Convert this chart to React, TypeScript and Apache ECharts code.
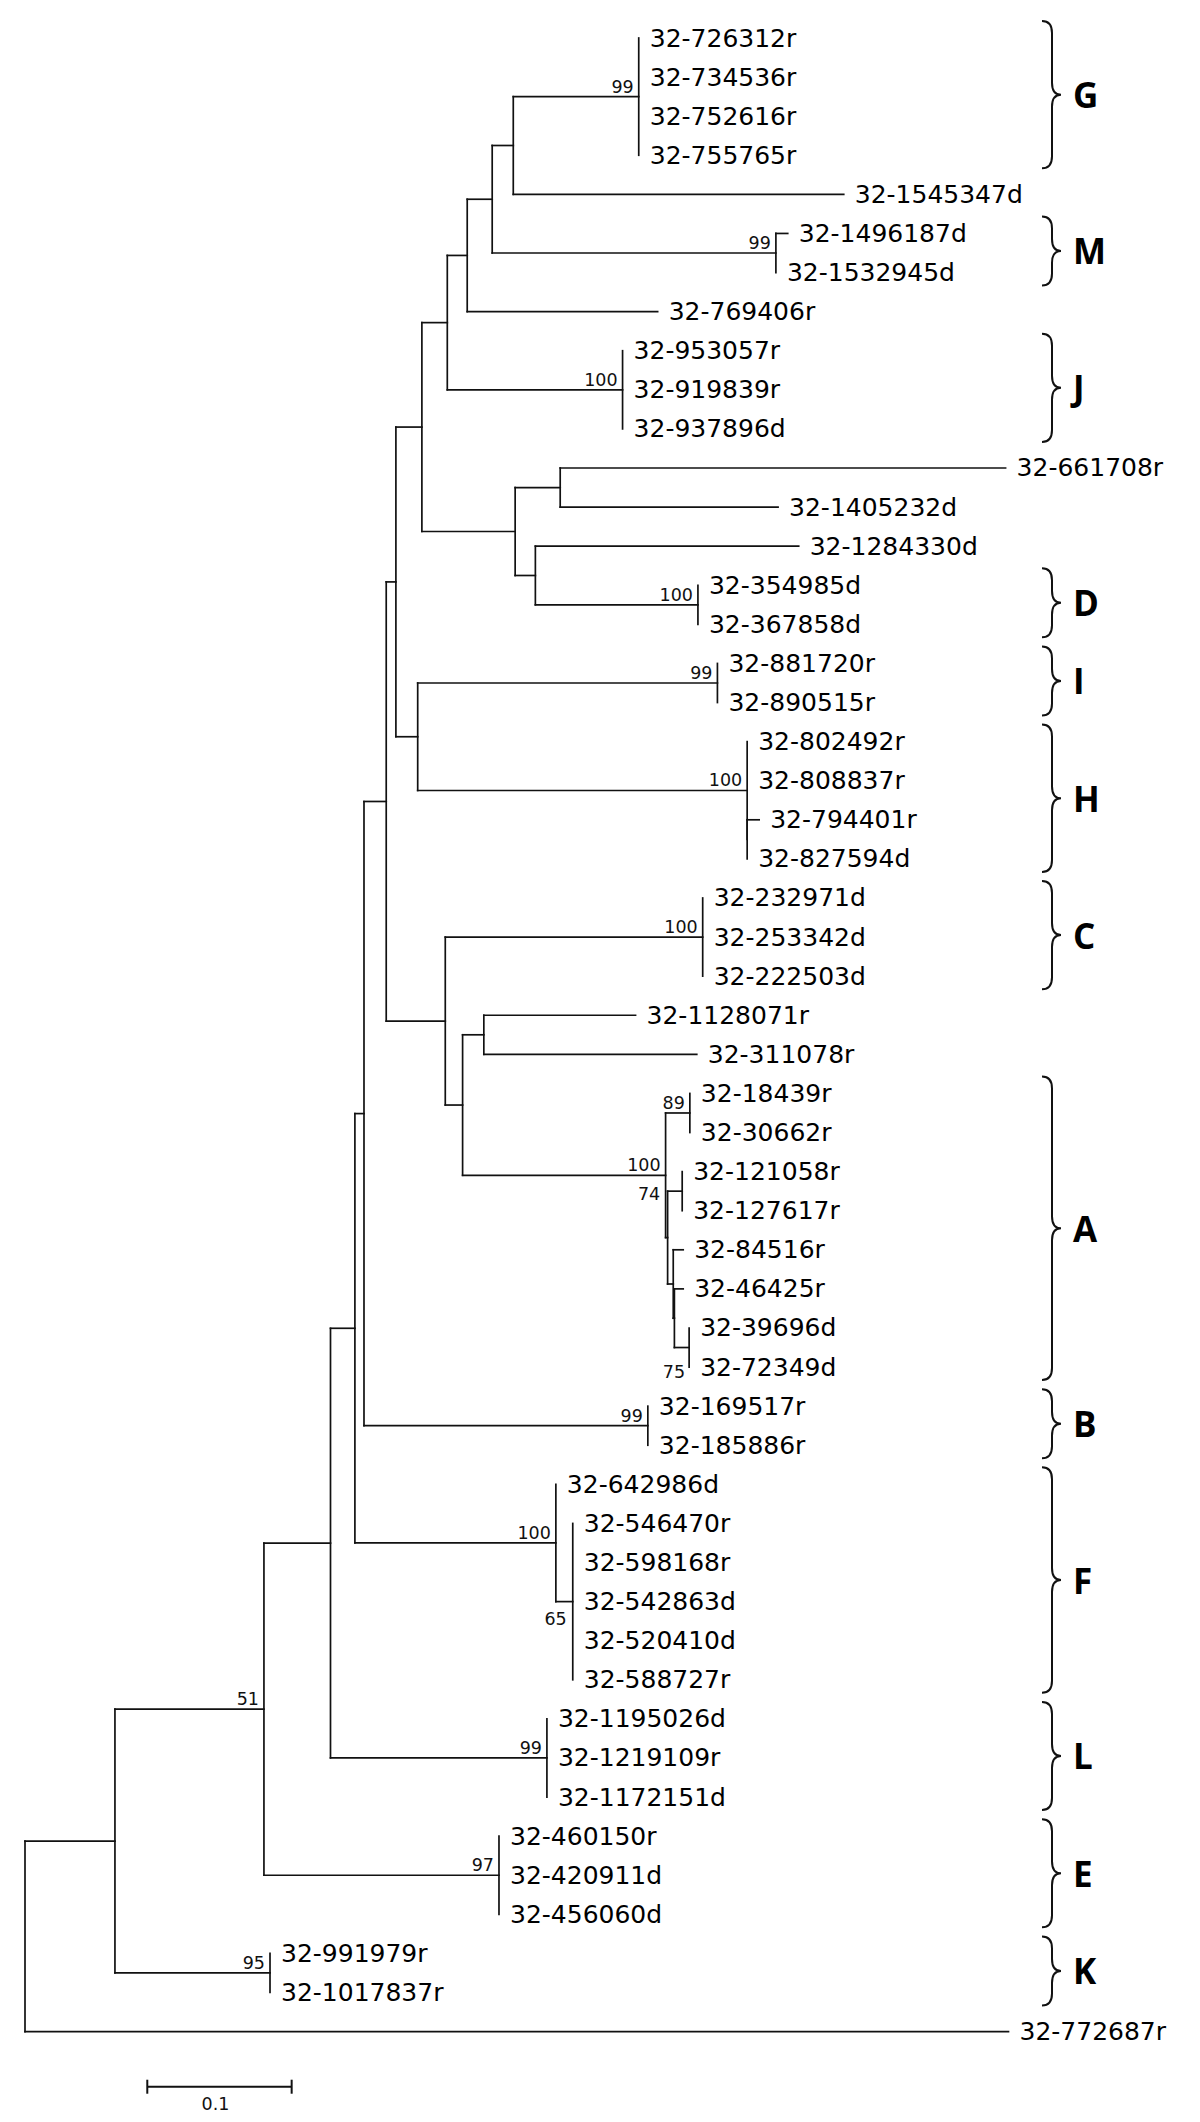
import React, { useEffect, useRef } from "react";
import * as echarts from "echarts";

// ---------------- DATA ----------------
// Leaves, top to bottom
const LEAF_NAMES = [
  "32-726312r", "32-734536r", "32-752616r", "32-755765r", "32-1545347d",
  "32-1496187d", "32-1532945d", "32-769406r", "32-953057r", "32-919839r",
  "32-937896d", "32-661708r", "32-1405232d", "32-1284330d", "32-354985d",
  "32-367858d", "32-881720r", "32-890515r", "32-802492r", "32-808837r",
  "32-794401r", "32-827594d", "32-232971d", "32-253342d", "32-222503d",
  "32-1128071r", "32-311078r", "32-18439r", "32-30662r", "32-121058r",
  "32-127617r", "32-84516r", "32-46425r", "32-39696d", "32-72349d",
  "32-169517r", "32-185886r", "32-642986d", "32-546470r", "32-598168r",
  "32-542863d", "32-520410d", "32-588727r", "32-1195026d", "32-1219109r",
  "32-1172151d", "32-460150r", "32-420911d", "32-456060d", "32-991979r",
  "32-1017837r", "32-772687r",
];

// Distance from the root to each leaf (substitutions per site)
const LEAF_DEPTHS = [
  0.4251, 0.4251, 0.4251, 0.4251, 0.5671,
  0.5283, 0.5201, 0.4382, 0.4139, 0.4139,
  0.4139, 0.6792, 0.5216, 0.5359, 0.4661,
  0.4661, 0.4796, 0.4796, 0.5002, 0.5002,
  0.5085, 0.5002, 0.4694, 0.4694, 0.4694,
  0.4229, 0.4653, 0.4605, 0.4605, 0.4552,
  0.4552, 0.4559, 0.4559, 0.46, 0.46,
  0.4314, 0.4314, 0.3677, 0.3794, 0.3794,
  0.3794, 0.3794, 0.3794, 0.3615, 0.3615,
  0.3615, 0.3283, 0.3283, 0.3283, 0.1697,
  0.1697, 0.6812,
];

// Internal nodes
const NODE_IDS = [
  "R", "N1", "K", "N51", "E", "N330", "L", "N355", "F", "F65",
  "N364", "B", "N386", "N396", "N418", "I", "H", "Hs", "N445", "C",
  "N462", "N484", "A", "A89", "Z", "A74", "Y", "W", "A75", "N422",
  "N516", "N560", "N535", "D", "N448", "J", "N467", "N492", "M", "N513", "G",
];

const NODE_DEPTHS = [
  0, 0.0623, 0.1697, 0.1655, 0.3283, 0.2116, 0.3615, 0.2285, 0.3677, 0.3794,
  0.2348, 0.4314, 0.2502, 0.2569, 0.272, 0.4796, 0.5002, 0.5002, 0.2911, 0.4694,
  0.3031, 0.3178, 0.4437, 0.4605, 0.4451, 0.4552, 0.449, 0.4498, 0.46, 0.2749,
  0.3395, 0.3707, 0.3535, 0.4661, 0.2925, 0.4139, 0.3063, 0.3236, 0.5201, 0.3382, 0.4251,
];

const NODE_CHILDREN = [
  ["N1", "32-772687r"],
  ["N51", "K"],
  ["32-991979r", "32-1017837r"],
  ["N330", "E"],
  ["32-460150r", "32-420911d", "32-456060d"],
  ["N355", "L"],
  ["32-1195026d", "32-1219109r", "32-1172151d"],
  ["N364", "F"],
  ["32-642986d", "F65"],
  ["32-546470r", "32-598168r", "32-542863d", "32-520410d", "32-588727r"],
  ["N386", "B"],
  ["32-169517r", "32-185886r"],
  ["N396", "N445"],
  ["N422", "N418"],
  ["I", "H"],
  ["32-881720r", "32-890515r"],
  ["32-802492r", "32-808837r", "Hs"],
  ["32-794401r", "32-827594d"],
  ["C", "N462"],
  ["32-232971d", "32-253342d", "32-222503d"],
  ["N484", "A"],
  ["32-1128071r", "32-311078r"],
  ["A89", "Z"],
  ["32-18439r", "32-30662r"],
  ["A74", "Y"],
  ["32-121058r", "32-127617r"],
  ["32-84516r", "W"],
  ["32-46425r", "A75"],
  ["32-39696d", "32-72349d"],
  ["N448", "N516"],
  ["N560", "N535"],
  ["32-661708r", "32-1405232d"],
  ["32-1284330d", "D"],
  ["32-354985d", "32-367858d"],
  ["N467", "J"],
  ["32-953057r", "32-919839r", "32-937896d"],
  ["N492", "32-769406r"],
  ["N513", "M"],
  ["32-1496187d", "32-1532945d"],
  ["G", "32-1545347d"],
  ["32-726312r", "32-734536r", "32-752616r", "32-755765r"],
];

// Bootstrap support (null = not shown)
const NODE_SUPPORT = [
  null, null, 95, 51, 97, null, 99, null, 100, 65,
  null, 99, null, null, null, 99, 100, null, null, 100,
  null, null, 100, 89, null, 74, null, null, 75, null,
  null, null, null, 100, null, 100, null, null, 99, null, 99,
];

// Clades
const CLADE_LETTERS = ["G", "M", "J", "D", "I", "H", "C", "A", "B", "F", "L", "E", "K"];
const CLADE_FIRST_LEAF = [
  "32-726312r", "32-1496187d", "32-953057r", "32-354985d", "32-881720r",
  "32-802492r", "32-232971d", "32-18439r", "32-169517r", "32-642986d",
  "32-1195026d", "32-460150r", "32-991979r",
];
const CLADE_LAST_LEAF = [
  "32-755765r", "32-1532945d", "32-937896d", "32-367858d", "32-890515r",
  "32-827594d", "32-222503d", "32-72349d", "32-185886r", "32-588727r",
  "32-1172151d", "32-456060d", "32-1017837r",
];

const SCALE_BAR_LENGTH = 0.1;
const SCALE_BAR_LABEL = "0.1";

// ---------------- STYLE / LAYOUT ----------------
const LINE_COLOR = "#111";
const LINE_WIDTH = 1.7;
const LEAF_FONT = '25px "DejaVu Sans"';
const SUPPORT_FONT = '17.5px "DejaVu Sans"';
const CLADE_FONT = 'bold 35px "Open Sans"';
const LEAF_LABEL_GAP = 11;
const SUPPORT_DEFAULT_SHIFT = [-5, -1, "bottom"];
const SUPPORT_SHIFT = {
  F65: [-6, 8, "top"],
  A75: [-4, 15, "top"],
  A74: [-22, -6, "top"],
};
const BRACE_X0 = 1042;
const BRACE_SPINE = 1052;
const BRACE_TIP = 1061;
const BRACE_R = 12;
const BRACE_TOP_PAD = 17;
const BRACE_BOTTOM_PAD = 13;
const CLADE_LETTER_X = 1073;
const SCALE_BAR_POS = [0.0847, 52.41];

export default function App() {
  const ref = useRef(null);

  useEffect(() => {
    const chart = echarts.init(ref.current, null, { renderer: "svg" });

    const leafIndex = {};
    LEAF_NAMES.forEach((n, i) => (leafIndex[n] = i));
    const nodeIndex = {};
    NODE_IDS.forEach((id, i) => (nodeIndex[id] = i));
    const yCache = {};
    const posOf = (r) => {
      if (leafIndex[r] !== undefined) {
        const i = leafIndex[r];
        return [LEAF_DEPTHS[i], i];
      }
      const k = nodeIndex[r];
      if (yCache[r] === undefined) {
        const ch = NODE_CHILDREN[k];
        const y0 = posOf(ch[0])[1];
        const y1 = posOf(ch[ch.length - 1])[1];
        yCache[r] = (y0 + y1) / 2;
      }
      return [NODE_DEPTHS[k], yCache[r]];
    };

    const segments = [];
    const supportItems = [];
    NODE_IDS.forEach((id, k) => {
      const [d, y] = posOf(id);
      const ch = NODE_CHILDREN[k];
      const first = posOf(ch[0]);
      const last = posOf(ch[ch.length - 1]);
      segments.push([d, first[1], d, last[1]]);
      ch.forEach((c) => {
        const p = posOf(c);
        if (p[0] > d + 1e-6) segments.push([d, p[1], p[0], p[1]]);
      });
      if (NODE_SUPPORT[k] !== null) supportItems.push({ id, d, y, s: NODE_SUPPORT[k] });
    });
    const leafData = LEAF_NAMES.map((n, i) => [LEAF_DEPTHS[i], i]);
    const supportData = supportItems.map((s) => [s.d, s.y]);
    const cladeData = CLADE_LETTERS.map((l, i) => [0, leafIndex[CLADE_FIRST_LEAF[i]], leafIndex[CLADE_LAST_LEAF[i]]]);

    const option = {
      animation: false,
      backgroundColor: "#ffffff",
      grid: { left: 25, top: 38, width: 1155, height: 1993.6, show: false },
      xAxis: { type: "value", min: 0, max: 0.8, show: false },
      yAxis: { type: "value", min: 0, max: 51, inverse: true, show: false },
      series: [
        {
          type: "custom",
          name: "branches",
          silent: true,
          clip: false,
          encode: { x: [0, 2], y: [1, 3] },
          data: segments,
          renderItem: (params, api) => {
            const a = api.coord([api.value(0), api.value(1)]);
            const b = api.coord([api.value(2), api.value(3)]);
            return {
              type: "line",
              shape: { x1: a[0], y1: a[1], x2: b[0], y2: b[1] },
              style: { stroke: LINE_COLOR, lineWidth: LINE_WIDTH, lineCap: "square" },
            };
          },
        },
        {
          type: "custom",
          name: "leaves",
          silent: true,
          clip: false,
          encode: { x: 0, y: 1 },
          data: leafData,
          renderItem: (params, api) => {
            const p = api.coord([api.value(0), api.value(1)]);
            return {
              type: "text",
              x: p[0] + LEAF_LABEL_GAP,
              y: p[1],
              style: {
                text: LEAF_NAMES[params.dataIndex],
                fill: "#000",
                font: LEAF_FONT,
                textAlign: "left",
                textVerticalAlign: "middle",
              },
            };
          },
        },
        {
          type: "custom",
          name: "support",
          silent: true,
          clip: false,
          encode: { x: 0, y: 1 },
          data: supportData,
          renderItem: (params, api) => {
            const info = supportItems[params.dataIndex];
            const sh = SUPPORT_SHIFT[info.id] || SUPPORT_DEFAULT_SHIFT;
            const p = api.coord([api.value(0), api.value(1)]);
            return {
              type: "text",
              x: p[0] + sh[0],
              y: p[1] + sh[1],
              style: {
                text: String(info.s),
                fill: "#111",
                font: SUPPORT_FONT,
                textAlign: "right",
                textVerticalAlign: sh[2],
              },
            };
          },
        },
        {
          type: "custom",
          name: "clades",
          silent: true,
          clip: false,
          encode: { x: 0, y: [1, 2] },
          data: cladeData,
          renderItem: (params, api) => {
            const top = api.coord([0, api.value(1)])[1] - BRACE_TOP_PAD;
            const bot = api.coord([0, api.value(2)])[1] + BRACE_BOTTOM_PAD;
            const ym = (top + bot) / 2;
            const r = Math.min(BRACE_R, (bot - top) / 4);
            const d =
              `M${BRACE_X0},${top} Q${BRACE_SPINE},${top} ${BRACE_SPINE},${top + r} ` +
              `L${BRACE_SPINE},${ym - r} Q${BRACE_SPINE},${ym} ${BRACE_TIP},${ym} ` +
              `Q${BRACE_SPINE},${ym} ${BRACE_SPINE},${ym + r} ` +
              `L${BRACE_SPINE},${bot - r} Q${BRACE_SPINE},${bot} ${BRACE_X0},${bot}`;
            return {
              type: "group",
              children: [
                {
                  type: "path",
                  shape: { pathData: d },
                  style: { fill: "none", stroke: "#111", lineWidth: 2 },
                },
                {
                  type: "text",
                  x: CLADE_LETTER_X,
                  y: ym,
                  style: {
                    text: CLADE_LETTERS[params.dataIndex],
                    fill: "#000",
                    font: CLADE_FONT,
                    textAlign: "left",
                    textVerticalAlign: "middle",
                  },
                },
              ],
            };
          },
        },
        {
          type: "custom",
          name: "scalebar",
          silent: true,
          clip: false,
          encode: { x: 0, y: 1 },
          data: [SCALE_BAR_POS],
          renderItem: (params, api) => {
            const a = api.coord([api.value(0), api.value(1)]);
            const b = api.coord([api.value(0) + SCALE_BAR_LENGTH, api.value(1)]);
            const st = { stroke: "#111", lineWidth: 2 };
            return {
              type: "group",
              children: [
                { type: "line", shape: { x1: a[0], y1: a[1], x2: b[0], y2: b[1] }, style: st },
                { type: "line", shape: { x1: a[0], y1: a[1] - 7, x2: a[0], y2: a[1] + 7 }, style: st },
                { type: "line", shape: { x1: b[0], y1: b[1] - 7, x2: b[0], y2: b[1] + 7 }, style: st },
                {
                  type: "text",
                  x: (a[0] + b[0]) / 2 - 4,
                  y: a[1] + 17,
                  style: {
                    text: SCALE_BAR_LABEL,
                    fill: "#111",
                    font: SUPPORT_FONT,
                    textAlign: "center",
                    textVerticalAlign: "middle",
                  },
                },
              ],
            };
          },
        },
      ],
    };

    chart.setOption(option);
    return () => chart.dispose();
  }, []);

  return (
    <div
      ref={ref}
      style={{ position: "absolute", left: 0, top: 0, width: 1200, height: 2122, background: "#fff" }}
    />
  );
}
